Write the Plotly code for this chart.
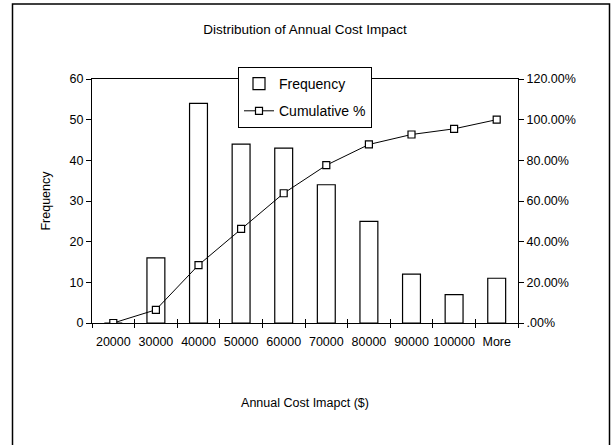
import plotly.graph_objects as go

categories = ["20000", "30000", "40000", "50000", "60000", "70000", "80000", "90000", "100000", "More"]
frequency = [0, 16, 54, 44, 43, 34, 25, 12, 7, 11]
cumulative_pct = [0, 6.5, 28.5, 46.3, 63.8, 77.6, 87.8, 92.7, 95.5, 100]
pct_tickvals = [0, 20, 40, 60, 80, 100, 120]
pct_ticktext = [".00%", "20.00%", "40.00%", "60.00%", "80.00%", "100.00%", "120.00%"]

FONT = "Liberation Sans, Arial, sans-serif"

fig = go.Figure()
fig.add_trace(go.Bar(
    x=categories, y=frequency, name="Frequency", legendgroup="a",
    marker=dict(color="white", line=dict(color="black", width=1.2)),
    xaxis="x", yaxis="y",
))
fig.add_trace(go.Scatter(
    x=categories, y=cumulative_pct, name="Cumulative %", legendgroup="b",
    mode="lines+markers",
    line=dict(color="black", width=1),
    marker=dict(symbol="square", size=7, color="white", line=dict(color="black", width=1.2)),
    xaxis="x2", yaxis="y2",
))

fig.update_layout(
    width=616, height=445,
    margin=dict(l=92, r=98, t=79, b=122),
    paper_bgcolor="white", plot_bgcolor="white",
    font=dict(family=FONT, color="black", size=12.5),
    bargap=0.58,
    showlegend=True,
    title=dict(text="Distribution of Annual Cost Impact", x=0.5, xref="paper",
               y=1 - 29 / 445, yanchor="middle",
               font=dict(size=13.5, family=FONT, color="black")),
    legend=dict(x=(238 - 92) / 426, y=(323 - 67) / 244, xanchor="left", yanchor="top",
                bgcolor="white", bordercolor="black", borderwidth=1,
                font=dict(size=14, family=FONT), tracegroupgap=6,
                traceorder="grouped", itemwidth=30),
    xaxis=dict(type="category", range=[-0.5, 9.5], showgrid=False,
               showline=True, linecolor="black", linewidth=1, mirror=True,
               ticks="outside", ticklen=4, tickcolor="black", tickson="boundaries",
               tickangle=0, tickfont=dict(size=12.5), ticklabelstandoff=7,
               title=dict(text="Annual Cost Imapct ($)", standoff=50, font=dict(size=12.5))),
    xaxis2=dict(type="category", range=[-0.5, 9.5], overlaying="x", anchor="y2",
                showgrid=False, showline=False, ticks="inside", ticklen=4,
                tickcolor="black", tickson="boundaries", showticklabels=False),
    yaxis=dict(range=[0, 60], tickvals=[0, 10, 20, 30, 40, 50, 60], showgrid=False,
               showline=True, linecolor="black", linewidth=1, zeroline=False,
               ticks="outside", ticklen=5, tickcolor="black",
               tickfont=dict(size=12.5),
               title=dict(text="Frequency", standoff=16, font=dict(size=12.5))),
    yaxis2=dict(range=[0, 120], overlaying="y", side="right", anchor="x2",
                tickvals=pct_tickvals, ticktext=pct_ticktext, showgrid=False,
                showline=True, linecolor="black", linewidth=1, zeroline=False,
                ticks="outside", ticklen=5, tickcolor="black",
                tickfont=dict(size=12.5)),
    shapes=[dict(type="rect", xref="paper", yref="paper",
                 x0=(12.5 - 92) / 426, x1=(609.5 - 92) / 426,
                 y0=(323 - 460) / 244, y1=(323 - 4) / 244,
                 line=dict(color="black", width=1.5), fillcolor="rgba(0,0,0,0)",
                 layer="below")],
)

fig.write_html("out.html", config={"displayModeBar": False},
               post_script="document.body.style.margin='0';document.body.style.padding='0';")
